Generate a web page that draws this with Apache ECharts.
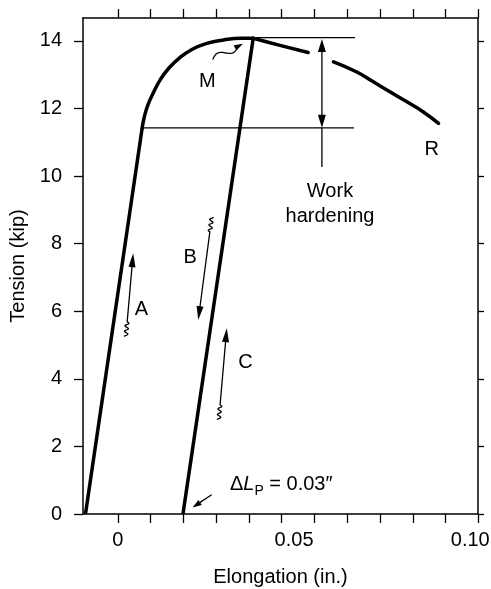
<!DOCTYPE html>
<html>
<head>
<meta charset="utf-8">
<title>Tension - elongation</title>
<script src="https://cdn.jsdelivr.net/npm/echarts@6/dist/echarts.min.js"></script>
<style>
html,body{margin:0;padding:0;background:#fff;}
#chart{width:491px;height:589px;}
</style>
</head>
<body>
<div id="chart"></div>
<script>
// axes
var xMin = -0.0099, xMax = 0.1022;
var yMin = 0, yMax = 14.68;
var xLabelValues = [0, 0.05, 0.10];
var xLabelText = ['0', '0.05', '0.10'];
var xTickValues = [0, 0.0093, 0.0186, 0.0279, 0.0372, 0.0465, 0.0558, 0.0651, 0.0744, 0.0837, 0.0930, 0.1022];
var yTickValues = [0, 2, 4, 6, 8, 10, 12, 14];

// elastic loading up to yield
var loadLine = [[-0.0092, 0], [0.0069, 11.43]];
// rounding from yield to max load M
var loadCurve = [[0.0069, 11.43], [0.0075, 11.75], [0.0085, 12.1], [0.0100, 12.45], [0.0120, 12.85],
    [0.0145, 13.2], [0.0175, 13.5], [0.0210, 13.75], [0.0250, 13.92], [0.0300, 14.03], [0.0350, 14.08], [0.0384, 14.08]];
// unloading B / reloading C
var unloadLine = [[0.01847, 0], [0.0384, 14.08]];
// past M to rupture R (drawn with a break)
var neckA = [[0.0384, 14.08], [0.0460, 13.87], [0.0540, 13.66]];
var neckB = [[0.0612, 13.38], [0.0678, 13.08], [0.0725, 12.79], [0.0773, 12.49], [0.0820, 12.20], [0.0867, 11.90], [0.0910, 11.56]];
// work hardening guides
var yieldGuide = [[0.0069, 11.43], [0.0670, 11.43]];
var maxGuide = [[0.0384, 14.1], [0.0673, 14.1]];

// arrows [tail, tip]
var arrowA = [[0.00264, 5.69], [0.00435, 7.72]];
var arrowB = [[0.0261, 8.35], [0.0228, 5.74]];
var arrowC = [[0.0290, 3.23], [0.0309, 5.5]];
var arrowM = [[0.0269, 13.45], [0.0355, 13.92]];
var arrowDL = [[0.0266, 0.57], [0.0212, 0.196]];
var arrowWork = [[0.0579, 10.27], [0.0579, 11.43], [0.0579, 14.06]];

// text notes
var noteNames = ['A', 'B', 'C', 'M', 'R'];
var notePos = [[0.0067, 6.05], [0.0205, 7.6], [0.0362, 4.49], [0.0254, 12.81], [0.0891, 10.8]];
var workPos = [0.0602, 9.17];
var dlPos = [0.0318, 0.87];

var FONT = 'Liberation Sans, Arial, Helvetica, sans-serif';

function curve(data, smooth) {
    return {
        type: 'line', data: data, symbol: 'none', smooth: smooth || false,
        lineStyle: {color: '#000', width: 3.5, join: 'round', cap: smooth ? 'round' : 'butt'},
        silent: true, z: 3
    };
}
function guide(data) {
    return {
        type: 'line', data: data, symbol: 'none',
        lineStyle: {color: '#000', width: 1.3}, silent: true, z: 2
    };
}

//箭头：直线或波浪线，末端实心三角
function arrow(from, to, opt) {
    opt = opt || {};
    return {
        type: 'custom', silent: true, z: 4,
        data: [[from[0], from[1], to[0], to[1]]],
        encode: {x: [0, 2], y: [1, 3]},
        renderItem: function (params, api) {
            var p0 = api.coord([api.value(0), api.value(1)]);
            var p1 = api.coord([api.value(2), api.value(3)]);
            var dx = p1[0] - p0[0], dy = p1[1] - p0[1];
            var len = Math.sqrt(dx * dx + dy * dy);
            var ux = dx / len, uy = dy / len, nx = -uy, ny = ux;
            var hl = opt.headLen || 13, hw = opt.headWidth || 7;
            var pts = [], s, w;
            if (opt.squiggle) {
                for (s = 15; s > 0; s -= 0.5) {
                    w = 1.8 * Math.sin(Math.PI * s / 2.75);
                    pts.push([p0[0] - ux * s + nx * w, p0[1] - uy * s + ny * w]);
                }
            }
            var endCut = opt.noHead ? 0 : hl * 0.6;
            var startCut = opt.doubleHead ? hl * 0.6 : 0;
            if (opt.wavy) {
                var L = len - endCut;
                for (s = 0; s <= L; s += 1) {
                    w = -opt.wavy * Math.sin(2 * Math.PI * s / L);
                    pts.push([p0[0] + ux * s + nx * w, p0[1] + uy * s + ny * w]);
                }
            } else {
                pts.push([p0[0] + ux * startCut, p0[1] + uy * startCut]);
                pts.push([p1[0] - ux * endCut, p1[1] - uy * endCut]);
            }
            var children = [{
                type: 'polyline', shape: {points: pts},
                style: {stroke: '#000', lineWidth: opt.lw || 1.3, fill: null}
            }];
            function head(tip, ax, ay) {
                return {
                    type: 'polygon',
                    shape: {points: [tip,
                        [tip[0] - ax * hl - ay * hw / 2, tip[1] - ay * hl + ax * hw / 2],
                        [tip[0] - ax * hl + ay * hw / 2, tip[1] - ay * hl - ax * hw / 2]]},
                    style: {fill: '#000'}
                };
            }
            if (!opt.noHead) children.push(head(p1, ux, uy));
            if (opt.doubleHead) children.push(head(p0, -ux, -uy));
            return {type: 'group', children: children};
        }
    };
}

var labelStyle = {color: '#000', fontSize: 20, fontFamily: FONT};

function notes(data, label) {
    return {
        type: 'scatter', symbolSize: 0, silent: true, z: 5,
        itemStyle: {opacity: 1},
        data: data,
        label: label
    };
}

var chart = echarts.init(document.getElementById('chart'));
var option = {
    animation: false,
    backgroundColor: '#fff',
    textStyle: {fontFamily: FONT},
    grid: {left: 83, right: 13, top: 18, bottom: 75, containLabel: false, outerBoundsMode: 'none'},
    xAxis: [{
        type: 'value', min: xMin, max: xMax, position: 'bottom',
        name: 'Elongation (in.)', nameLocation: 'middle', nameGap: 53,
        nameTextStyle: labelStyle,
        axisLine: {show: true, onZero: false, lineStyle: {color: '#000', width: 1.5}},
        axisTick: {show: true, inside: false, length: 9, customValues: xTickValues, lineStyle: {color: '#000', width: 1.3}},
        axisLabel: {
            show: true, margin: 16, color: '#000', fontSize: 20, fontFamily: FONT,
            customValues: xLabelValues,
            formatter: function (v) {
                for (var i = 0; i < xLabelValues.length; i++) {
                    if (Math.abs(v - xLabelValues[i]) < 1e-6) return xLabelText[i];
                }
                return '';
            }
        },
        splitLine: {show: false}
    }, {
        type: 'value', min: xMin, max: xMax, position: 'top',
        axisLine: {show: true, onZero: false, lineStyle: {color: '#000', width: 1.5}},
        axisTick: {show: true, inside: false, length: 9, customValues: xTickValues, lineStyle: {color: '#000', width: 1.3}},
        axisLabel: {show: false},
        splitLine: {show: false}
    }],
    yAxis: [{
        type: 'value', min: yMin, max: yMax, position: 'left',
        name: 'Tension (kip)', nameLocation: 'middle', nameGap: 53, nameRotate: 90,
        nameTextStyle: labelStyle,
        axisLine: {show: true, onZero: false, lineStyle: {color: '#000', width: 1.5}},
        axisTick: {show: true, inside: false, length: 9, customValues: yTickValues, lineStyle: {color: '#000', width: 1.3}},
        axisLabel: {show: true, margin: 21, color: '#000', fontSize: 20, fontFamily: FONT, customValues: yTickValues},
        splitLine: {show: false}
    }, {
        type: 'value', min: yMin, max: yMax, position: 'right',
        axisLine: {show: true, onZero: false, lineStyle: {color: '#000', width: 1.5}},
        axisTick: {show: true, inside: false, length: 6, customValues: yTickValues, lineStyle: {color: '#000', width: 1.3}},
        axisLabel: {show: false},
        splitLine: {show: false}
    }],
    series: [
        curve(loadLine),
        curve(loadCurve, 0.5),
        curve(unloadLine),
        curve(neckA, 0.5),
        curve(neckB, 0.5),
        guide(yieldGuide),
        guide(maxGuide),
        arrow(arrowA[0], arrowA[1], {squiggle: true, headLen: 14, headWidth: 7}),
        arrow(arrowB[0], arrowB[1], {squiggle: true, headLen: 14, headWidth: 7}),
        arrow(arrowC[0], arrowC[1], {squiggle: true, headLen: 14, headWidth: 7}),
        arrow(arrowM[0], arrowM[1], {wavy: 3.5, headLen: 9, headWidth: 6}),
        arrow(arrowDL[0], arrowDL[1], {headLen: 9, headWidth: 6}),
        arrow(arrowWork[0], arrowWork[1], {noHead: true}),
        arrow(arrowWork[1], arrowWork[2], {doubleHead: true, headLen: 13, headWidth: 8}),
        notes(noteNames.map(function (n, i) { return {name: n, value: notePos[i]}; }), {
            show: true, position: 'inside', formatter: '{b}', color: '#000', opacity: 1,
            fontSize: 20, fontFamily: FONT
        }),
        notes([{name: 'Work\nhardening', value: workPos}], {
            show: true, position: 'inside', formatter: '{b}', align: 'center', lineHeight: 25,
            color: '#000', opacity: 1, fontSize: 20, fontFamily: FONT
        }),
        notes([{name: 'dl', value: dlPos}], {
            show: true, position: 'right', distance: 0, opacity: 1,
            formatter: '{n|Δ}{i|L}{s|P}{n| = 0.03″}',
            rich: {
                n: {fontSize: 20, fontFamily: FONT, color: '#000', lineHeight: 28},
                i: {fontSize: 20, fontFamily: FONT, fontStyle: 'italic', color: '#000', lineHeight: 28},
                s: {fontSize: 14, fontFamily: FONT, color: '#000', lineHeight: 14, verticalAlign: 'bottom'}
            }
        })
    ]
};
chart.setOption(option);
</script>
</body>
</html>
